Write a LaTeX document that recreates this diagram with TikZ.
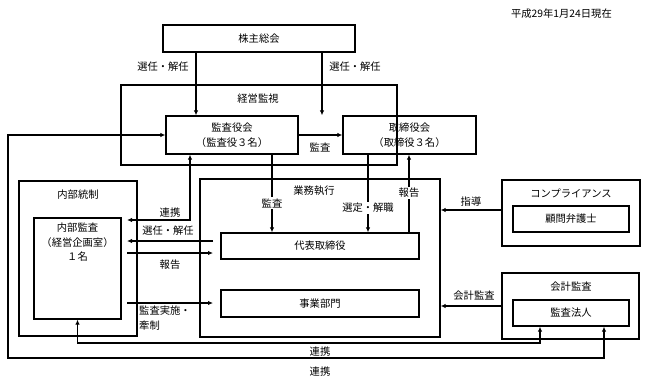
\documentclass[tikz,border=0pt]{standalone}
\usepackage{fontspec}
\setmainfont{Noto Sans CJK JP}
\usetikzlibrary{arrows.meta}
\begin{document}
\begin{tikzpicture}[x=1pt,y=-1pt,
  box/.style={draw,line width=1.3pt,inner sep=0pt,align=center,font=\jp},
  lbl/.style={inner sep=1pt,font=\jp,align=center},
  wlbl/.style={lbl,fill=white},
  arr/.style={line width=1.2pt,-{Latex[length=5pt,width=4.5pt]}},
  arrb/.style={line width=1.2pt,{Latex[length=5pt,width=4.5pt]}-{Latex[length=5pt,width=4.5pt]}},
  ln/.style={line width=1.2pt}]
\newcommand{\jp}{\fontsize{10.3}{14.5}\selectfont}
\useasboundingbox (0,0) rectangle (647,385);
% boxes
\node[box,minimum width=192,minimum height=27] (kabu) at (259,38.5) {株主総会};
\node[box,minimum width=276,minimum height=80] (keiei) at (259,125) {};
\node[box,minimum width=132,minimum height=38] (kansayaku) at (232,135) {監査役会\\（監査役３名）};
\node[box,minimum width=133,minimum height=38] (torishimari) at (409.5,135) {取締役会\\（取締役３名）};
\node[box,minimum width=118,minimum height=155] (naibu) at (78,258.5) {};
\node[box,minimum width=87,minimum height=101] (naibukansa) at (77.5,268.5) {};
\node[box,minimum width=240,minimum height=158] (gyomu) at (320,258) {};
\node[box,minimum width=198,minimum height=26] (daihyo) at (320,246) {代表取締役};
\node[box,minimum width=198,minimum height=27] (jigyo) at (320,303.5) {事業部門};
\node[box,minimum width=138,minimum height=66] (comp) at (571,213) {};
\node[box,minimum width=116,minimum height=26] (komon) at (571,219) {顧問弁護士};
\node[box,minimum width=137,minimum height=66] (kaikei) at (570.5,306) {};
\node[box,minimum width=116,minimum height=26] (hojin) at (571,313) {監査法人};
% box titles
\node[lbl,anchor=east] (date) at (613,14) {平成29年1月24日現在};
\node[lbl] (tkeiei) at (258,99) {経営監視};
\node[lbl] (tnaibu) at (78,195) {内部統制};
\node[lbl,anchor=north] (tnk) at (77.5,222) {内部監査\\（経営企画室）\\１名};
\node[lbl] (tgyomu) at (314,191) {業務執行};
\node[lbl] (tcomp) at (571,193) {コンプライアンス};
\node[lbl] (tkaikei) at (571,287) {会計監査};
% helper coordinates
\coordinate (x196) at (196,0);
\coordinate (x322) at (322,0);
\coordinate (x272) at (272,0);
\coordinate (x368) at (368,0);
\coordinate (x409) at (409,0);
\coordinate (x190) at (190,0);
\coordinate (p1) at (127,220);
\coordinate (a1) at (213,241);
\coordinate (a2) at (127,241);
\coordinate (b1) at (127,253);
\coordinate (b2) at (213,253);
\coordinate (c1) at (127,303);
\coordinate (c2) at (213,303);
\coordinate (y210) at (0,210);
\coordinate (l1) at (78,343);
\coordinate (r1) at (540,343);
\coordinate (o1) at (604,358);
\coordinate (o2) at (8,358);
\coordinate (o3) at (8,135);
% connectors
\draw[arr] (kabu.south -| x196) -- (kansayaku.north -| x196);
\draw[arr] (kabu.south -| x322) -- (torishimari.north -| x322);
\node[lbl] (s1) at (163,67) {選任・解任};
\node[lbl] (s2) at (355,67) {選任・解任};
\draw[arr] (kansayaku.east) -- (torishimari.west);
\node[lbl] (k1) at (320,147) {監査};
\draw[arr] (kansayaku.south -| x272) -- (daihyo.north -| x272);
\node[wlbl] (k2) at (272,203) {監査};
\draw[arr] (torishimari.south -| x368) -- (daihyo.north -| x368);
\node[wlbl] (k3) at (368,208) {選定・解職};
\draw[arr] (daihyo.north -| x409) -- (torishimari.south -| x409);
\node[wlbl] (k4) at (409,193) {報告};
\draw[arrb] (kansayaku.south -| x190) |- (p1);
\node[lbl] (r1l) at (170,213) {連携};
\draw[arr] (a1) -- (a2);
\node[lbl] (r2l) at (168,231) {選任・解任};
\draw[arr] (b1) -- (b2);
\node[lbl] (r3l) at (170,265) {報告};
\draw[arr] (c1) -- (c2);
\node[lbl,anchor=north west,align=left] (r4l) at (138,305) {監査実施・\\牽制};
\draw[arr] (comp.west |- y210) -- (gyomu.east |- y210);
\node[lbl] (g1) at (471,202) {指導};
\draw[arr] (kaikei.west) -- (gyomu.east |- kaikei.west);
\node[lbl] (g2) at (474,296) {会計監査};
\draw[arrb] (naibukansa.south) -- (naibukansa.south |- l1) -- (r1) -- (hojin.south -| r1);
\node[lbl] (rr1) at (320,352) {連携};
\draw[arrb] (hojin.south -| o1) -- (o1) -- (o2) -- (o3) -- (kansayaku.west);
\node[lbl] (rr2) at (320,372) {連携};
\end{tikzpicture}
\end{document}
